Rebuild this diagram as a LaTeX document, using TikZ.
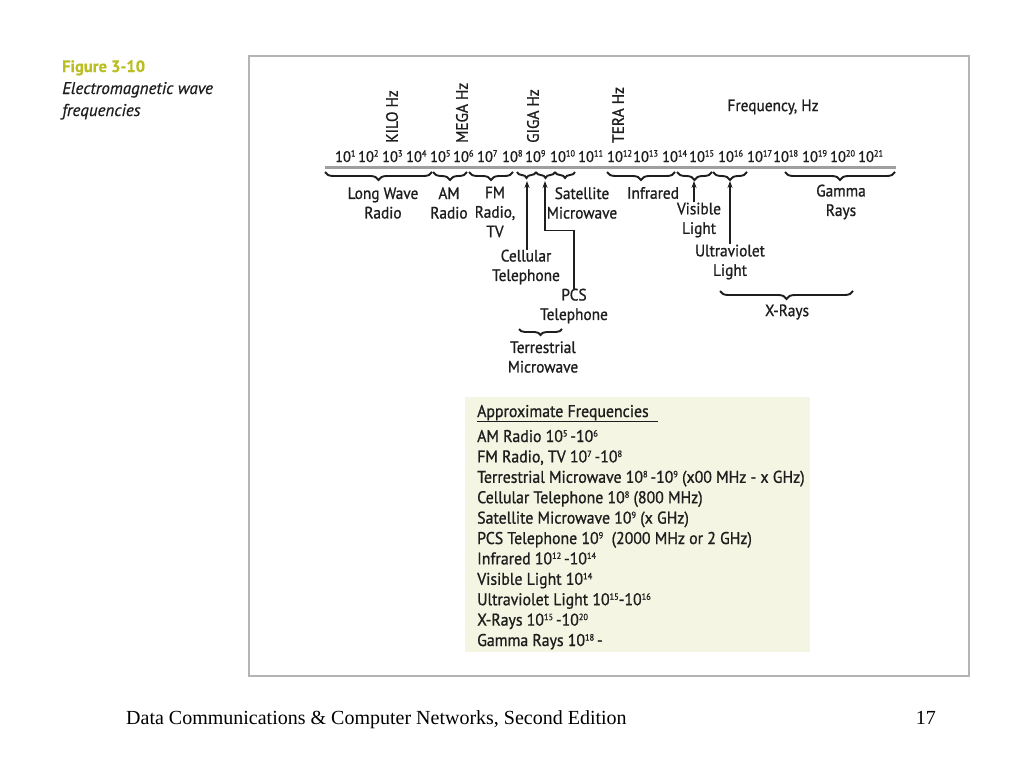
\documentclass[tikz,border=0pt]{standalone}
\usepackage{fontspec}
\setmainfont{PT Sans}[FakeStretch=0.93, FakeBold=1]
\newfontfamily\capfont{PT Sans}[FakeBold=0.6]
\newfontfamily\footfont{Liberation Serif}
\usetikzlibrary{
		arrows.meta,
		decorations.pathreplacing,
		positioning
	}
\definecolor{figgreen}{HTML}{BABE22}
\definecolor{tblfill}{HTML}{F4F6E3}
\definecolor{inkgray}{HTML}{1E1E1E}
\definecolor{framegray}{HTML}{B4B4B4}
\newcommand{\ep}[1]{\raisebox{5.5pt}{\fontsize{9}{9}\selectfont #1}}
\tikzset{
		>={Stealth[length=7pt,width=5pt]},
		lbl/.style={font=\fontsize{16.5}{19.5}\selectfont, text=inkgray, align=center, inner sep=0pt},
		explbl/.style={lbl, font=\fontsize{15.5}{18}\selectfont, anchor=base west},
		rotlbl/.style={lbl, rotate=90, anchor=west},
		tblrow/.style={lbl, font=\fontsize{17}{20}\selectfont, anchor=west, text height=12pt, text depth=4pt},
		brc/.style={decorate, decoration={brace, mirror, amplitude=8pt}, line width=1.9pt, inkgray},
		smallbrc/.style={brc, decoration={brace, mirror, amplitude=6pt}},
		arr/.style={->, line width=1.2pt, inkgray}
	}

\begin{document}
\begin{tikzpicture}[x=1pt, y=-1pt]
        \useasboundingbox (0,0) rectangle (1024,768);
        \fill[white] (0,0) rectangle (1024,768);

        % figure caption on the left
        \node[anchor=base west, inner sep=0pt, text=figgreen, font=\fontsize{16.5}{21}\selectfont\capfont\bfseries] (figno) at (62,72) {Figure 3-10};
        \node[anchor=base west, inner sep=0pt, text=inkgray, font=\fontsize{17}{22}\selectfont\capfont\itshape] (figcap) at (62,94) {Electromagnetic wave};
        \node[anchor=base west, inner sep=0pt, text=inkgray, font=\fontsize{17}{22}\selectfont\capfont\itshape] (figcap2) at (62,116) {frequencies};

        % the frame
        \draw[framegray, line width=1.5pt] (249,56) rectangle (969,676);

        % the frequency axis
        \draw[gray!75, line width=3pt] (325,167) -- (896,167);
        \foreach \x/\n in {335/1,358/2,382/3,406/4,430/5,453/6,477/7,502/8,525/9,550/10,578/11,
                           607/12,633/13,662/14,689/15,718/16,747/17,773/18,802/19,830/20,858/21}
            \node[explbl] (e\n) at (\x,162) {10\ep{\n}};

        % the unit names
        \node[rotlbl] (kilo) at (392,143) {KILO Hz};
        \node[rotlbl] (mega) at (462,143) {MEGA Hz};
        \node[rotlbl] (giga) at (533,143) {GIGA Hz};
        \node[rotlbl] (tera) at (618,143) {TERA Hz};
        \node[lbl] (freq) at (773,107) {Frequency, Hz};

        % the braces under the axis
        \draw[brc] (325,172) -- (432,172);
        \draw[brc] (433,172) -- (467,172);
        \draw[brc] (469,172) -- (513,172);
        \draw[smallbrc] (517,172) -- (536,172);
        \draw[smallbrc] (536,172) -- (555,172);
        \draw[smallbrc] (555,172) -- (575,172);
        \draw[brc] (607,172) -- (675,172);
        \draw[brc] (677,172) -- (712,172);
        \draw[brc] (713,172) -- (747,172);
        \draw[brc] (785,172) -- (895,172);
        \draw[brc] (720,291) -- (853,291);
        \draw[smallbrc] (519,329) -- (562,329);

        % the band names
        \node[lbl] (lwr) at (383,203) {Long Wave\\Radio};
        \node[lbl] (amr) at (449,203) {AM\\Radio};
        \node[lbl] (fmr) at (495,212) {FM\\Radio,\\TV};
        \node[lbl] (sat) at (582,203) {Satellite\\Microwave};
        \node[lbl] (cell) at (526,267) {Cellular\\Telephone};
        \node[lbl] (pcs) at (574,306) {PCS\\Telephone};
        \node[lbl] (terr) at (543,357) {Terrestrial\\Microwave};
        \node[lbl] (ir) at (653,193) {Infrared};
        \node[lbl] (vis) at (699,220) {Visible\\Light};
        \node[lbl] (uv) at (730,262) {Ultraviolet\\Light};
        \node[lbl] (gam) at (841,202) {Gamma\\Rays};
        \node[lbl] (xr) at (787,312) {X-Rays};

        % the tips the arrows point at
        \coordinate (cellTip) at (527,181);
        \coordinate (pcsTip) at (545,181);
        \coordinate (visTip) at (694,181);
        \coordinate (uvTip) at (730,181);

        % draw the arrows
        \draw[arr] (cell.north -| cellTip) -- (cellTip);
        \draw[arr] (pcs.north) -- ++(0,-58) -| (pcsTip);
        \draw[arr] (vis.north -| visTip) -- (visTip);
        \draw[arr] (uv.north) -- (uvTip);

        % the table of frequencies
        \fill[tblfill] (465,397) rectangle (810,652);
        \node[tblrow] (apx) at (477,413) {Approximate Frequencies};
        \draw[inkgray, line width=1pt] (apx.south west) -- ++(181,0);
        \node[tblrow] (tam) at (477,438) {AM Radio 10\ep{5}\,-10\ep{6}};
        \node[tblrow, below=4pt of tam.south west, anchor=north west] (tfm) {FM Radio, TV 10\ep{7}\,-10\ep{8}};
        \node[tblrow, below=4pt of tfm.south west, anchor=north west] (tter) {Terrestrial Microwave 10\ep{8}\,-10\ep{9} (x00 MHz - x GHz)};
        \node[tblrow, below=4pt of tter.south west, anchor=north west] (tcell) {Cellular Telephone 10\ep{8} (800 MHz)};
        \node[tblrow, below=4pt of tcell.south west, anchor=north west] (tsat) {Satellite Microwave 10\ep{9} (x GHz)};
        \node[tblrow, below=4pt of tsat.south west, anchor=north west] (tpcs) {PCS Telephone 10\ep{9}\ \ (2000 MHz or 2 GHz)};
        \node[tblrow, below=4pt of tpcs.south west, anchor=north west] (tir) {Infrared 10\ep{12}\,-10\ep{14}};
        \node[tblrow, below=4pt of tir.south west, anchor=north west] (tvis) {Visible Light 10\ep{14}};
        \node[tblrow, below=4pt of tvis.south west, anchor=north west] (tuv) {Ultraviolet Light 10\ep{15}-10\ep{16}};
        \node[tblrow, below=4pt of tuv.south west, anchor=north west] (txr) {X-Rays 10\ep{15}\,-10\ep{20}};
        \node[tblrow, below=4pt of txr.south west, anchor=north west] (tgam) {Gamma Rays 10\ep{18}\,-};

        % the footer
        \node[anchor=base west, inner sep=0pt, font=\fontsize{20}{24}\selectfont\footfont] (foot) at (126,724) {Data Communications \& Computer Networks, Second Edition};
        \node[anchor=base east, inner sep=0pt, font=\fontsize{20}{24}\selectfont\footfont] (page) at (936,724) {17};

    \end{tikzpicture}
\end{document}
